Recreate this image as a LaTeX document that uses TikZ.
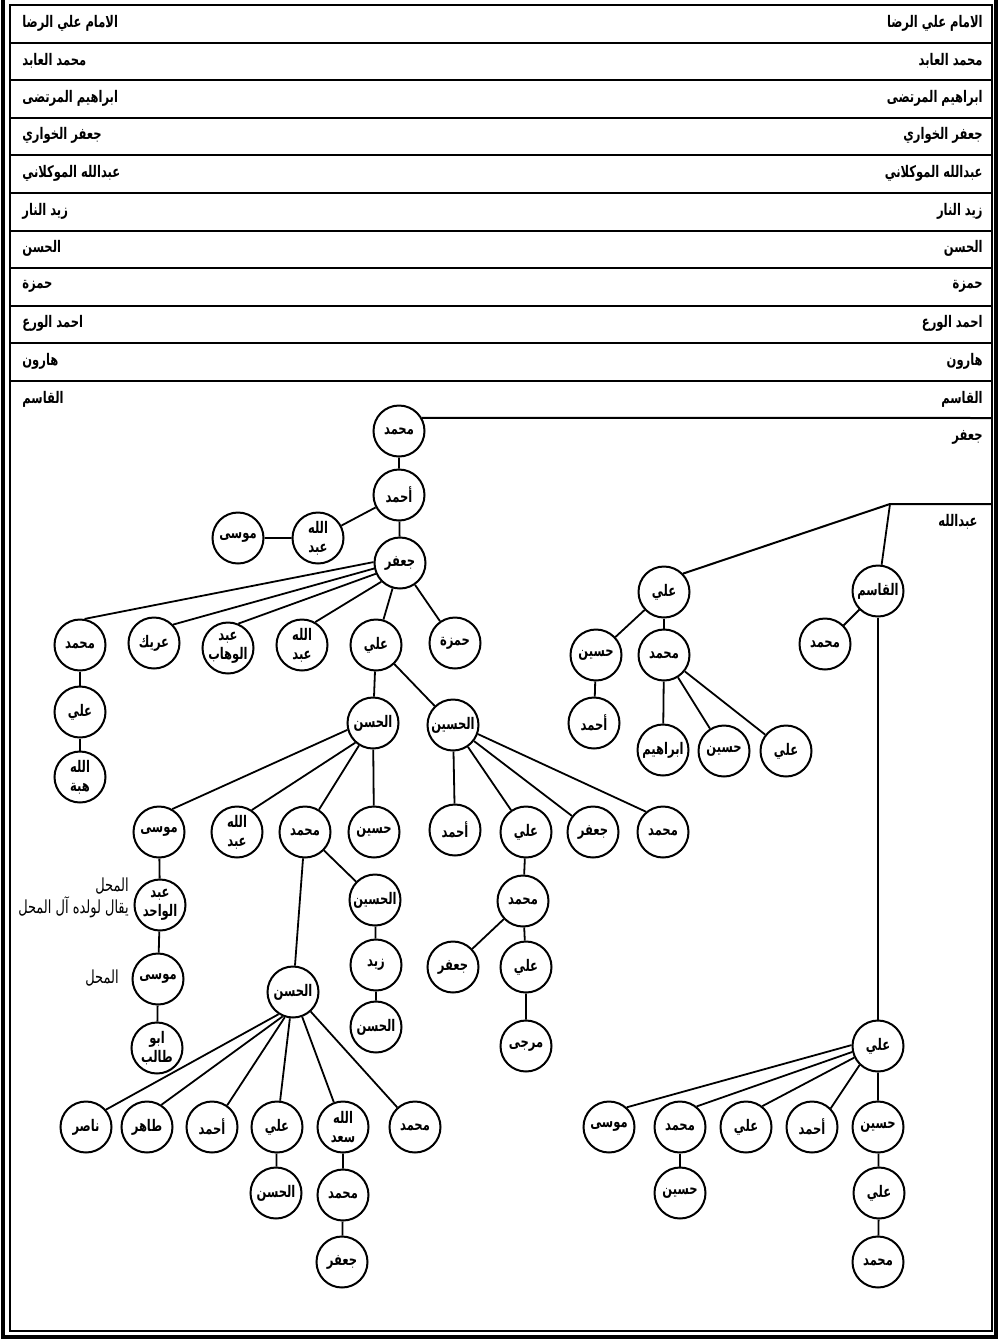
\documentclass[tikz,border=0pt]{standalone}
\usepackage{fontspec}
\newfontfamily\arabicfont[Script=Arabic,FakeStretch=0.72]{DejaVu Sans}
\TeXXeTstate=1
\usetikzlibrary{positioning}
\newcommand\ar[1]{\beginR#1\endR}

\begin{document}
\begin{tikzpicture}[
  x=0.5pt,y=-0.5pt,
  font={\arabicfont\bfseries\fontsize{8}{9.5}\selectfont},
  person/.style={draw,circle,line width=1pt,minimum size=25.5pt,inner sep=0pt,
    align=center,fill=white},
  rowlbl/.style={inner sep=1pt},
  sidelbl/.style={inner sep=1pt,anchor=east,
    font={\arabicfont\fontsize{9}{10}\selectfont}},
  kin/.style={line width=0.9pt},
  rowline/.style={line width=1pt}
]
\useasboundingbox (0,0) rectangle (998,1340);
\draw[line width=1.6pt] (3,-10) -- (3,1337) -- (996,1337) -- (996,-10);
\draw[line width=0.8pt] (10,5) rectangle (992,1331);

% ancestor rows
\draw[rowline] (10,42.6) -- (992,42.6);
\draw[rowline] (10,80.2) -- (992,80.2);
\draw[rowline] (10,117.8) -- (992,117.8);
\draw[rowline] (10,155.4) -- (992,155.4);
\draw[rowline] (10,193) -- (992,193);
\draw[rowline] (10,230.6) -- (992,230.6);
\draw[rowline] (10,268.2) -- (992,268.2);
\draw[rowline] (10,305.8) -- (992,305.8);
\draw[rowline] (10,343.4) -- (992,343.4);
\draw[rowline] (10,381) -- (992,381);
\node[rowlbl,anchor=west] (l1) at (20,23) {\ar{الامام علي الرضا}};
\node[rowlbl,anchor=east] (r1) at (985,23) {\ar{الامام علي الرضا}};
\node[rowlbl,anchor=west] (l2) at (20,60.6) {\ar{محمد العابد}};
\node[rowlbl,anchor=east] (r2) at (985,60.6) {\ar{محمد العابد}};
\node[rowlbl,anchor=west] (l3) at (20,98.2) {\ar{ابراهيم المرتضى}};
\node[rowlbl,anchor=east] (r3) at (985,98.2) {\ar{ابراهيم المرتضى}};
\node[rowlbl,anchor=west] (l4) at (20,135.8) {\ar{جعفر الخواري}};
\node[rowlbl,anchor=east] (r4) at (985,135.8) {\ar{جعفر الخواري}};
\node[rowlbl,anchor=west] (l5) at (20,173.4) {\ar{عبدالله الموكلاني}};
\node[rowlbl,anchor=east] (r5) at (985,173.4) {\ar{عبدالله الموكلاني}};
\node[rowlbl,anchor=west] (l6) at (20,211) {\ar{زيد النار}};
\node[rowlbl,anchor=east] (r6) at (985,211) {\ar{زيد النار}};
\node[rowlbl,anchor=west] (l7) at (20,248.6) {\ar{الحسن}};
\node[rowlbl,anchor=east] (r7) at (985,248.6) {\ar{الحسن}};
\node[rowlbl,anchor=west] (l8) at (20,286.2) {\ar{حمزة}};
\node[rowlbl,anchor=east] (r8) at (985,286.2) {\ar{حمزة}};
\node[rowlbl,anchor=west] (l9) at (20,323.8) {\ar{احمد الورع}};
\node[rowlbl,anchor=east] (r9) at (985,323.8) {\ar{احمد الورع}};
\node[rowlbl,anchor=west] (l10) at (20,361.4) {\ar{هارون}};
\node[rowlbl,anchor=east] (r10) at (985,361.4) {\ar{هارون}};
\node[rowlbl,anchor=west] (l11) at (20,399) {\ar{القاسم}};
\node[rowlbl,anchor=east] (r11) at (985,399) {\ar{القاسم}};
\node[rowlbl,anchor=east] (r12) at (985,437) {\ar{جعفر}};
\node[rowlbl,anchor=east] (r13) at (980,522) {\ar{عبدالله}};

% line of Muhammad
\node[person] (m1) at (399,431) {\ar{محمد}};
\node[person] (a1) at (399,495) {\ar{أحمد}};
\node[person] (ab1) at (318,538) {\ar{الله}\\\ar{عبد}};
\node[person] (mu1) at (238,538) {\ar{موسى}};
\node[person] (j1) at (400,563) {\ar{جعفر}};
\node[person] (jm) at (80,645) {\ar{محمد}};
\node[person] (jar) at (154,643) {\ar{عريك}};
\node[person] (jwh) at (228,648) {\ar{عبد}\\\ar{الوهاب}};
\node[person] (jab) at (302,645) {\ar{الله}\\\ar{عبد}};
\node[person] (jal) at (376,645) {\ar{علي}};
\node[person] (jhz) at (455,643) {\ar{حمزة}};
\node[person] (jma) at (80,712) {\ar{علي}};
\node[person] (jmh) at (80,777) {\ar{الله}\\\ar{هبة}};
\node[person] (h1) at (373,723) {\ar{الحسن}};
\node[person] (hs1) at (453,725) {\ar{الحسين}};
\node[person] (h1mu) at (159,832) {\ar{موسى}};
\node[person] (h1ab) at (237,832) {\ar{الله}\\\ar{عبد}};
\node[person] (h1m) at (305,832) {\ar{محمد}};
\node[person] (h1hs) at (374,832) {\ar{حسين}};
\node[person] (hs1a) at (455,830) {\ar{أحمد}};
\node[person] (hs1al) at (526,832) {\ar{علي}};
\node[person] (hs1j) at (593,832) {\ar{جعفر}};
\node[person] (hs1m) at (663,832) {\ar{محمد}};
\node[person] (wah) at (160,905) {\ar{عبد}\\\ar{الواحد}};
\node[person] (wmu) at (158,979) {\ar{موسى}};
\node[person] (abt) at (157,1048) {\ar{ابو}\\\ar{طالب}};
\node[sidelbl] (s1) at (131,886) {\ar{المحل}};
\node[sidelbl] (s2) at (131,907) {\ar{يقال لولده آل المحل}};
\node[sidelbl] (s3) at (121,978) {\ar{المحل}};
\node[person] (hs1alm) at (523,901) {\ar{محمد}};
\node[person] (hs1alj) at (453,967) {\ar{جعفر}};
\node[person] (hs1ala) at (526,967) {\ar{علي}};
\node[person] (mrj) at (526,1046) {\ar{مرجى}};
\node[person] (h1mh) at (293,992) {\ar{الحسن}};
\node[person] (h1mhs) at (375,900) {\ar{الحسين}};
\node[person] (zyd) at (376,965) {\ar{زيد}};
\node[person] (zh) at (376,1027) {\ar{الحسن}};
\node[person] (nsr) at (86,1127) {\ar{ناصر}};
\node[person] (thr) at (147,1127) {\ar{طاهر}};
\node[person] (gah) at (212,1127) {\ar{أحمد}};
\node[person] (gal) at (277,1127) {\ar{علي}};
\node[person] (gsd) at (343,1127) {\ar{الله}\\\ar{سعد}};
\node[person] (gm) at (415,1127) {\ar{محمد}};
\node[person] (galh) at (276,1193) {\ar{الحسن}};
\node[person] (gsdm) at (343,1195) {\ar{محمد}};
\node[person] (gsdj) at (342,1262) {\ar{جعفر}};

\draw[kin] (m1) -- (a1) -- (j1);
\draw[kin] (a1) -- (ab1) -- (mu1);
\draw[kin] (j1.178) -- (jm.80);
\draw[kin] (j1.192) -- (jar.44);
\draw[kin] (j1.204) -- (jwh.67);
\draw[kin] (j1.225) -- (jab.60);
\draw[kin] (j1) -- (jal);
\draw[kin] (j1) -- (jhz);
\draw[kin] (jm) -- (jma) -- (jmh);
\draw[kin] (jal) -- (h1);
\draw[kin] (jal) -- (hs1);
\draw[kin] (h1.195) -- (h1mu.60);
\draw[kin] (h1.228) -- (h1ab.56);
\draw[kin] (h1) -- (h1m);
\draw[kin] (h1) -- (h1hs);
\draw[kin] (hs1) -- (hs1a);
\draw[kin] (hs1) -- (hs1al);
\draw[kin] (hs1) -- (hs1j);
\draw[kin] (hs1.340) -- (hs1m.130);
\draw[kin] (h1mu) -- (wah) -- (wmu) -- (abt);
\draw[kin] (hs1al) -- (hs1alm) -- (hs1ala) -- (mrj);
\draw[kin] (hs1alm) -- (hs1alj);
\draw[kin] (h1m) -- (h1mh);
\draw[kin] (h1m) -- (h1mhs) -- (zyd) -- (zh);
\draw[kin] (h1mh.237) -- (nsr.41);
\draw[kin] (h1mh.247) -- (thr.57);
\draw[kin] (h1mh.252) -- (gah.55);
\draw[kin] (h1mh) -- (gal) -- (galh);
\draw[kin] (h1mh) -- (gsd) -- (gsdm) -- (gsdj);
\draw[kin] (h1mh) -- (gm);

% line of Abdallah
\coordinate (jr) at (992,418);
\coordinate (ak) at (890,504);
\coordinate (ar) at (992,504);
\node[person] (ra) at (664,592) {\ar{علي}};
\node[person] (rq) at (878,591) {\ar{القاسم}};
\node[person] (rah) at (596,655) {\ar{حسين}};
\node[person] (ram) at (664,655) {\ar{محمد}};
\node[person] (raha) at (594,723) {\ar{أحمد}};
\node[person] (rami) at (663,750) {\ar{ابراهيم}};
\node[person] (ramh) at (724,751) {\ar{حسين}};
\node[person] (rama) at (786,751) {\ar{علي}};
\node[person] (rqm) at (825,644) {\ar{محمد}};
\node[person] (rqa) at (878,1046) {\ar{علي}};
\node[person] (rqmu) at (609,1127) {\ar{موسى}};
\node[person] (rqm2) at (680,1127) {\ar{محمد}};
\node[person] (rqal) at (746,1127) {\ar{علي}};
\node[person] (rqah) at (812,1127) {\ar{أحمد}};
\node[person] (rqhs) at (878,1127) {\ar{حسين}};
\node[person] (rqm2h) at (680,1193) {\ar{حسين}};
\node[person] (rqhsa) at (879,1193) {\ar{علي}};
\node[person] (rqhsm) at (878,1262) {\ar{محمد}};

\draw[rowline] (m1.30) -- (jr);
\draw[rowline] (ra.44) -- (ak) -- (ar);
\draw[kin] (ak) -- (rq);
\draw[kin] (ra) -- (rah) -- (raha);
\draw[kin] (ra) -- (ram);
\draw[kin] (ram) -- (rami);
\draw[kin] (ram) -- (ramh);
\draw[kin] (ram) -- (rama);
\draw[kin] (rq) -- (rqm);
\draw[kin] (rq) -- (rqa);
\draw[kin] (rqa.178) -- (rqmu.48);
\draw[kin] (rqa.193) -- (rqm2.51);
\draw[kin] (rqa.206) -- (rqal.52);
\draw[kin] (rqa.226) -- (rqah.45);
\draw[kin] (rqa) -- (rqhs) -- (rqhsa) -- (rqhsm);
\draw[kin] (rqm2) -- (rqm2h);
\end{tikzpicture}
\end{document}
